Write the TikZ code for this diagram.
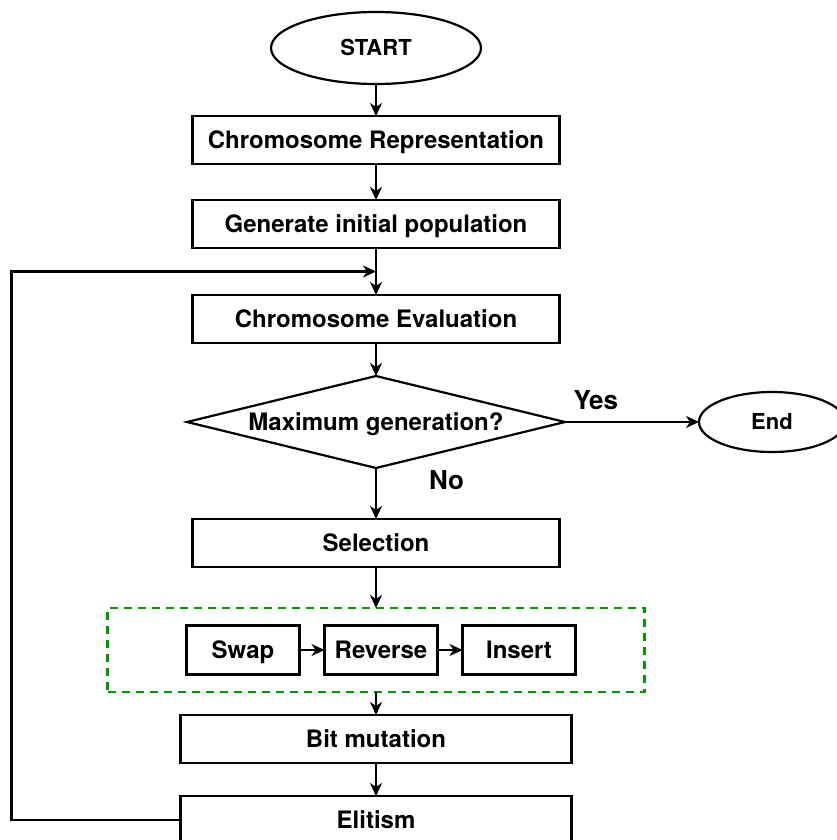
\documentclass[tikz,border=0pt]{standalone}
\usepackage{fontspec}
\setmainfont{TeX Gyre Heros}
\usepackage{tikz}
\usetikzlibrary{shapes, shapes.geometric, calc, arrows.meta, chains, positioning}

\definecolor{groupgreen}{RGB}{0,153,0}

\tikzset{
    startstop/.style={draw, ellipse, line width=2.2pt, inner sep=0pt, text height=15.8pt, text depth=0pt, font=\bfseries\fontsize{22}{26}\selectfont},
    process/.style={draw, rectangle, line width=2.2pt, minimum width=367pt, minimum height=48pt, inner sep=0pt, text height=17.2pt, text depth=0pt, font=\bfseries\fontsize{24}{28}\selectfont},
    decision/.style={draw, diamond, aspect=4.1, line width=2.2pt, minimum width=378pt, minimum height=92pt, inner sep=0pt, text height=17.2pt, text depth=0pt, font=\bfseries\fontsize{24}{28}\selectfont},
    mutbox/.style={process, minimum width=113pt, minimum height=49pt},
    answer/.style={inner sep=2pt, font=\bfseries\fontsize{26}{30}\selectfont},
}

\begin{document}
\begin{tikzpicture}[x=1pt, y=-1pt, >={Stealth[length=13pt, width=12pt, inset=4pt]}, line width=2.2pt, every node/.append style={outer sep=0pt}]

\useasboundingbox (0,0) rectangle (837,840);

\node [startstop, minimum width=210pt, minimum height=72pt] (start) at (376,48) {START};
\node [process, below=32pt of start] (repr) {Chromosome Representation};
\node [process, below=36pt of repr] (init) {Generate initial population};
\node [process, below=47pt of init] (eval) {Chromosome Evaluation};
\node [decision, below=33pt of eval] (maxgen) {Maximum generation?};
\node [startstop, minimum width=146pt, minimum height=60pt, right=134pt of maxgen] (finish) {End};
\node [process, below=51pt of maxgen] (select) {Selection};

\node [draw=groupgreen, dash pattern=on 8pt off 6pt, minimum width=537pt, minimum height=84pt, inner sep=0pt, below=41pt of select] (mutgroup) {};

\begin{scope}[start chain=going right, node distance=25pt]
    \node [mutbox, on chain, right=79pt of mutgroup.west] (swap) {Swap};
    \node [mutbox, on chain] (reverse) {Reverse};
    \node [mutbox, on chain] (insert) {Insert};
\end{scope}

\node [process, minimum width=391pt, below=23pt of mutgroup] (bitmut) {Bit mutation};
\node [process, minimum width=391pt, below=33pt of bitmut] (elite) {Elitism};

\coordinate (merge) at ($(init.south)!0.5!(eval.north)$);

\draw[->] (start) -- (repr);
\draw[->] (repr) -- (init);
\draw[->] (init) -- (eval);
\draw[->] (eval) -- (maxgen);
\draw[->] (maxgen.east) -- node[answer, pos=0.23, above=10pt] (yes) {Yes} (finish.west);
\draw[->] (maxgen.south) -- node[answer, pos=0.23, right=51pt] (no) {No} (select.north);
\draw[->] (select) -- (mutgroup);
\draw[->] (swap) -- (reverse);
\draw[->] (reverse) -- (insert);
\draw[->] (mutgroup) -- (bitmut);
\draw[->] (bitmut) -- (elite);
\draw[->] (elite.west) -- ++(-169pt,0) |- (merge);

\end{tikzpicture}
\end{document}
